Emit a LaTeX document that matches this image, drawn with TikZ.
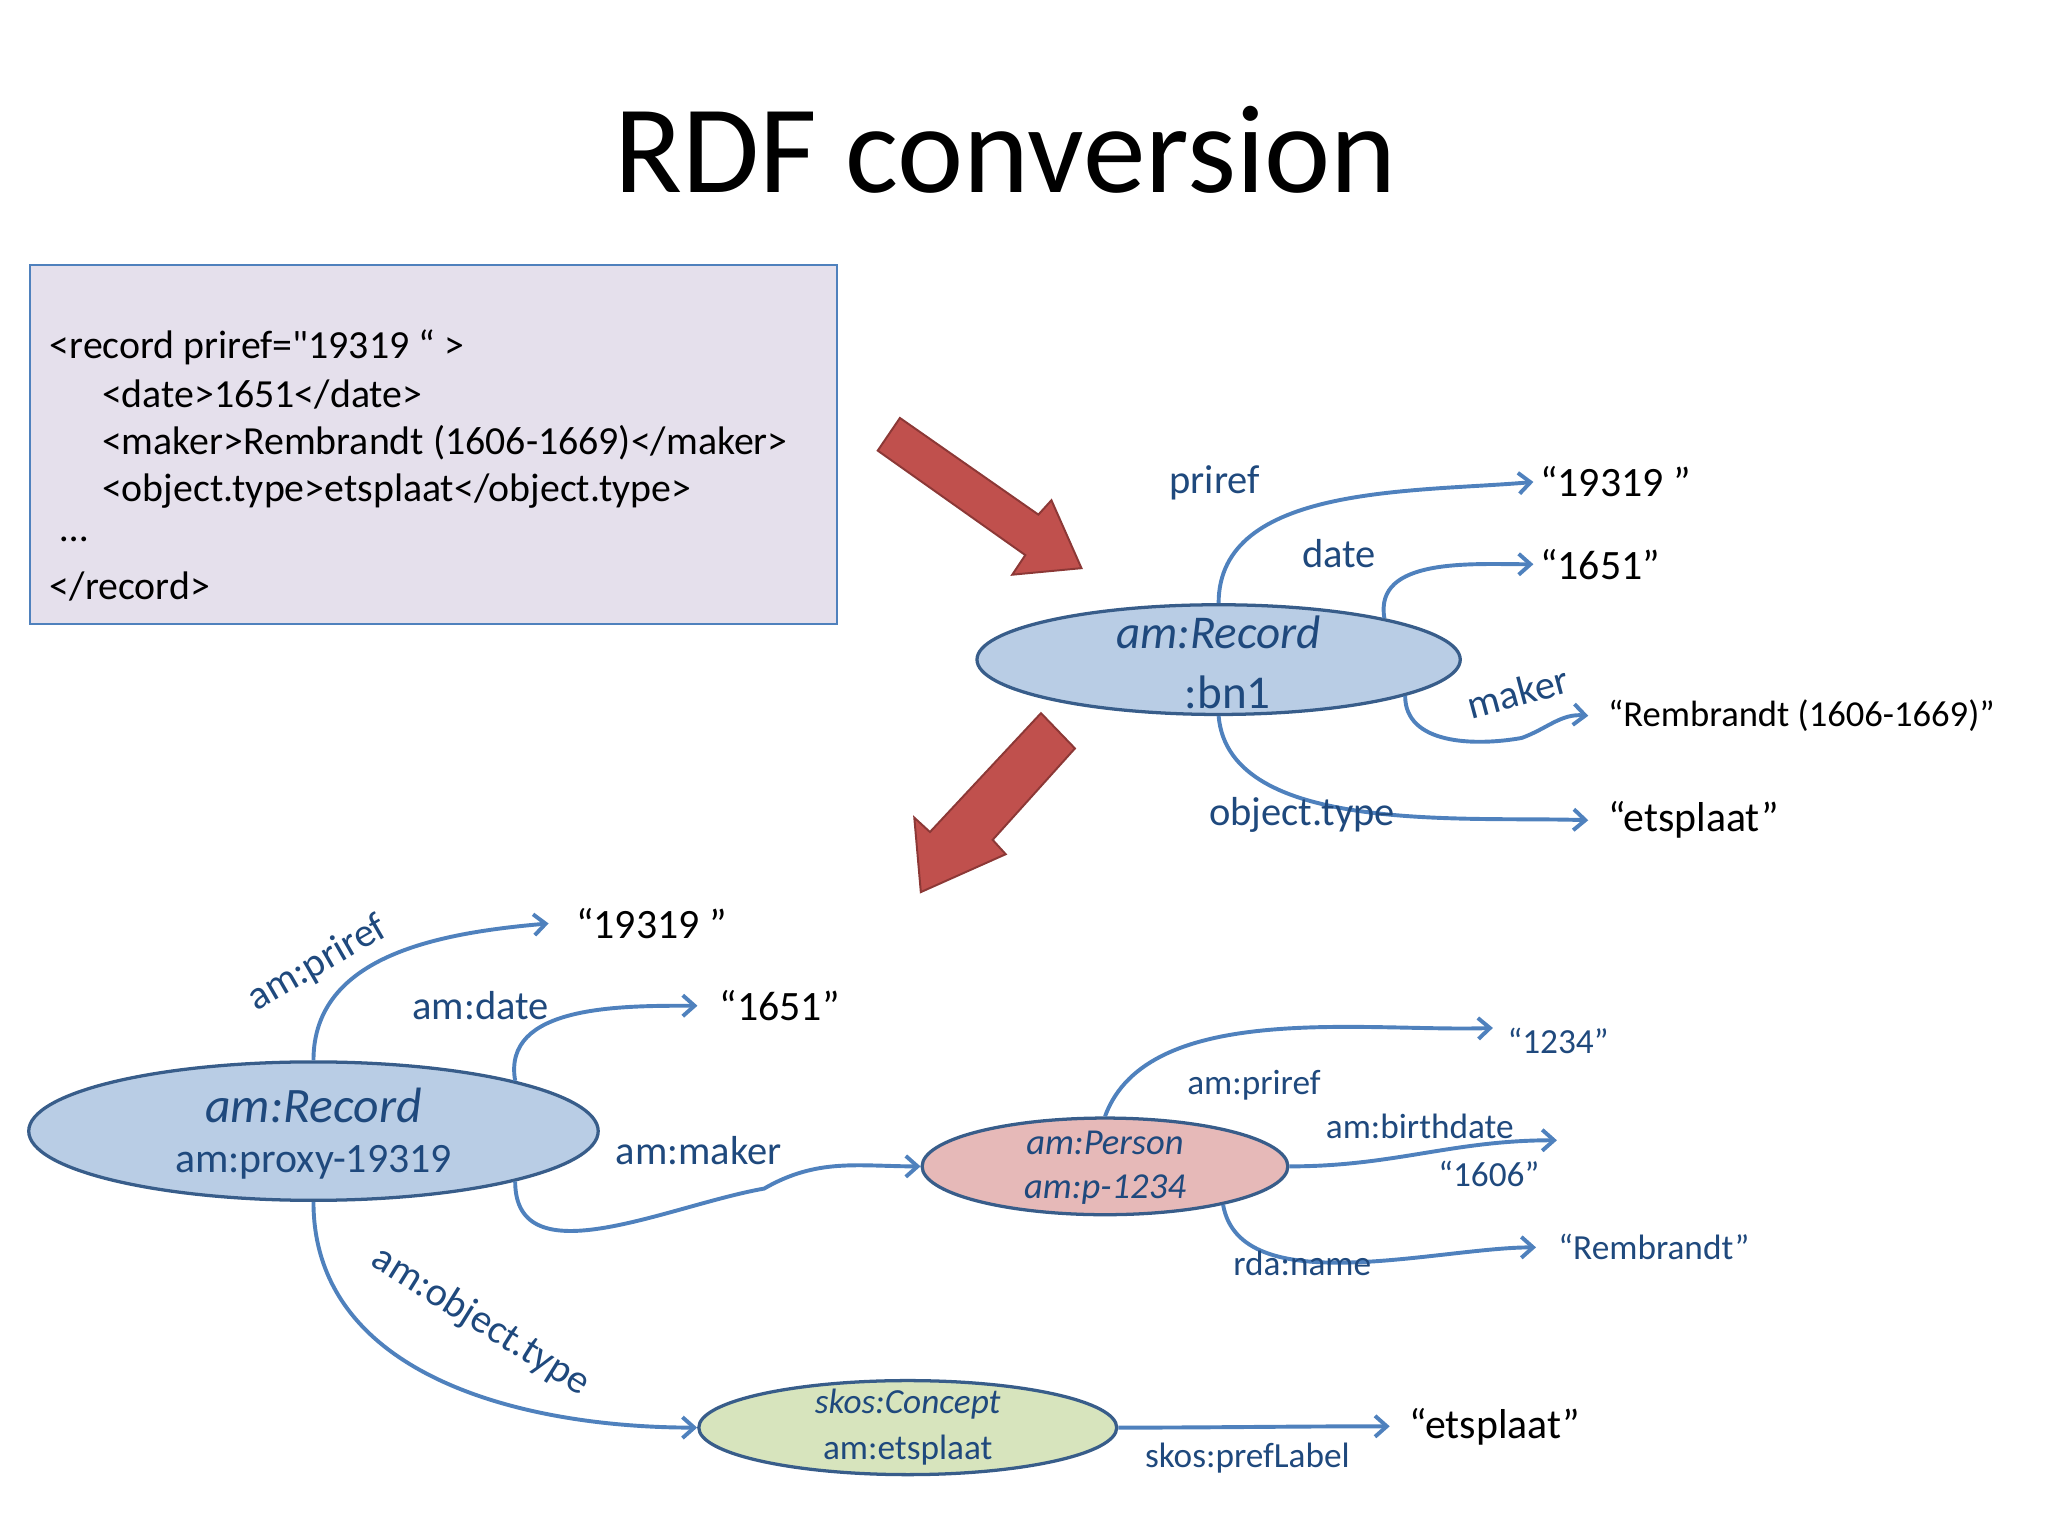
\documentclass[tikz,border=0pt]{standalone}
\usepackage{fontspec}
\setmainfont{Carlito}
\usetikzlibrary{shapes.geometric,arrows.meta}
\definecolor{lblue}{RGB}{79,129,189}
\definecolor{dblue}{RGB}{56,93,138}
\definecolor{tblue}{RGB}{31,73,125}
\begin{document}
\begin{tikzpicture}[x=1pt,y=-1pt,
 ell/.style={ellipse,draw=dblue,line width=2.5pt,inner sep=0pt},
 conn/.style={draw=lblue,line width=3pt,-{Straight Barb[length=9pt,width=16pt,line width=3pt]}},
 lab/.style={text=tblue,font=\fontsize{31}{33}\selectfont},
 labs/.style={text=tblue,font=\fontsize{27}{29}\selectfont},
 lit/.style={text=black,font=\fontsize{32}{34}\selectfont,inner sep=1pt},
 lits/.style={text=tblue,font=\fontsize{27}{29}\selectfont,inner sep=1pt},
 bigarrow/.style={fill={rgb,255:red,192;green,80;blue,77},draw={rgb,255:red,140;green,56;blue,54},line width=1.5pt}]
\useasboundingbox (0,0) rectangle (1568,1176);
\node (title) at (770,115) {\fontsize{96}{98}\selectfont RDF conversion};
% xml box
\node[draw=lblue,line width=1.5pt,fill={rgb,255:red,229;green,224;blue,236},minimum width=618,minimum height=275,anchor=north west,inner sep=0] (box) at (22,202) {};
\begin{scope}[every node/.style={anchor=west,font=\fontsize{30.5}{32}\selectfont,inner sep=0}]
\node (x1) at (38,266) {<record priref=\textquotedbl19319 “ >};
\node (x2) at (78,302) {<date>1651</date>};
\node (x3) at (78,339) {<maker>Rembrandt (1606-1669)</maker>};
\node (x4) at (78,376) {<object.type>etsplaat</object.type>};
\node (x5) at (46,413) {…};
\node (x6) at (38,449) {</record>};
\end{scope}
% red arrows
\path[bigarrow] (672,345) -- (689,320) -- (795,394) -- (805,383) -- (828,435) -- (775,440) -- (785,425) -- cycle;
\path[bigarrow] (797,546) -- (823,573) -- (760,643) -- (770,654) -- (705,683) -- (700,626) -- (712,637) -- cycle;
% top graph
\node[ell,fill={rgb,255:red,185;green,205;blue,229},minimum width=370,minimum height=84] (r1) at (933,505) {};
\node[text=tblue,font=\fontsize{36}{38}\selectfont\itshape] (r1a) at (933,484) {am:Record};
\node[text=tblue,font=\fontsize{36}{38}\selectfont] (r1b) at (940,530) {:bn1};
\node[lit,anchor=west] (l1) at (1178,369) {“19319 ”};
\node[lit,anchor=west] (l2) at (1178,432) {“1651”};
\node[lit,anchor=west,font=\fontsize{28}{30}\selectfont] (l3) at (1230,548) {“Rembrandt (1606-1669)”};
\node[lit,anchor=west] (l4) at (1230,628) {“etsplaat”};
\draw[conn] (r1.north) to[out=90,in=185,looseness=0.9] ([xshift=-4pt]l1.west);
\draw[conn] (r1.14) to[out=100,in=180] ([xshift=-4pt]l2.west);
\coordinate (m1) at (1165,565);
\draw[conn] (r1.-11) to[out=-90,in=190] (m1) to[out=20,in=175] ([xshift=-14pt]l3.west);
\draw[conn] (r1.south) to[out=-85,in=178,looseness=0.8] ([xshift=-14pt]l4.west);
\node[lab] (p1) at (930,370) {priref};
\node[lab] (p2) at (1025,424) {date};
\node[lab,rotate=15] (p3) at (1162,530) {maker};
\node[lab] (p4) at (997,624) {object.type};
% bottom graph
\node[ell,fill={rgb,255:red,185;green,205;blue,229},minimum width=436,minimum height=106] (r2) at (240,866) {};
\node[text=tblue,font=\fontsize{38}{40}\selectfont\itshape] (r2a) at (240,846) {am:Record};
\node[text=tblue,font=\fontsize{32}{34}\selectfont] (r2b) at (240,890) {am:proxy-19319};
\node[lit,anchor=west] (b1) at (440,707) {“19319 ”};
\node[lit,anchor=west] (b2) at (550,770) {“1651”};
\node[ell,fill={rgb,255:red,230;green,185;blue,184},minimum width=280,minimum height=74] (pe) at (846,893) {};
\node[text=tblue,font=\fontsize{28}{30}\selectfont\itshape] (pea) at (846,875) {am:Person};
\node[text=tblue,font=\fontsize{28}{30}\selectfont\itshape] (peb) at (846,911) {am:p-1234};
\node[ell,fill={rgb,255:red,215;green,228;blue,189},minimum width=320,minimum height=72] (sc) at (695,1093) {};
\node[text=tblue,font=\fontsize{27}{29}\selectfont\itshape] (sca) at (695,1075) {skos:Concept};
\node[text=tblue,font=\fontsize{27}{29}\selectfont] (scb) at (695,1110) {am:etsplaat};
\draw[conn] (r2.north) to[out=90,in=185] ([xshift=-20pt]b1.west);
\draw[conn] (r2.14) to[out=100,in=180] ([xshift=-16pt]b2.west);
\coordinate (m2) at (585,910);
\draw[conn] (r2.-14) to[out=-90,in=190] (m2) to[out=30,in=180] (pe.west);
\draw[conn] (r2.south) to[out=-90,in=180] (sc.west);
\node[lab,rotate=30] (q1) at (243,738) {am:priref};
\node[lab] (q2) at (368,770) {am:date};
\node[lab] (q3) at (535,881) {am:maker};
\node[lab,rotate=-32] (q4) at (368,1012) {am:object.type};
\node[lits,anchor=west] (c1) at (1153,797) {“1234”};
\node[lits,anchor=west] (c2) at (1100,899) {“1606”};
\node[lits,anchor=west] (c3) at (1192,955) {“Rembrandt”};
\coordinate (c2e) at (1192,873);
\draw[conn] (pe.north) to[out=70,in=182,looseness=0.8] ([xshift=-10pt]c1.west|-0,787);
\draw[conn] (pe.east) to[out=0,in=180] (c2e);
\draw[conn] (pe.-18) to[out=-80,in=180,looseness=0.8] ([xshift=-16pt]c3.west);
\node[labs] (d1) at (960,831) {am:priref};
\node[labs] (d2) at (1087,862) {am:birthdate};
\node[labs] (d3) at (997,967) {rda:name};
\node[lit,anchor=west] (e1) at (1078,1092) {“etsplaat”};
\draw[conn] (sc.east) to[out=0,in=180] ([xshift=-14pt]e1.west);
\node[labs] (f1) at (955,1116) {skos:prefLabel};
\end{tikzpicture}
\end{document}
